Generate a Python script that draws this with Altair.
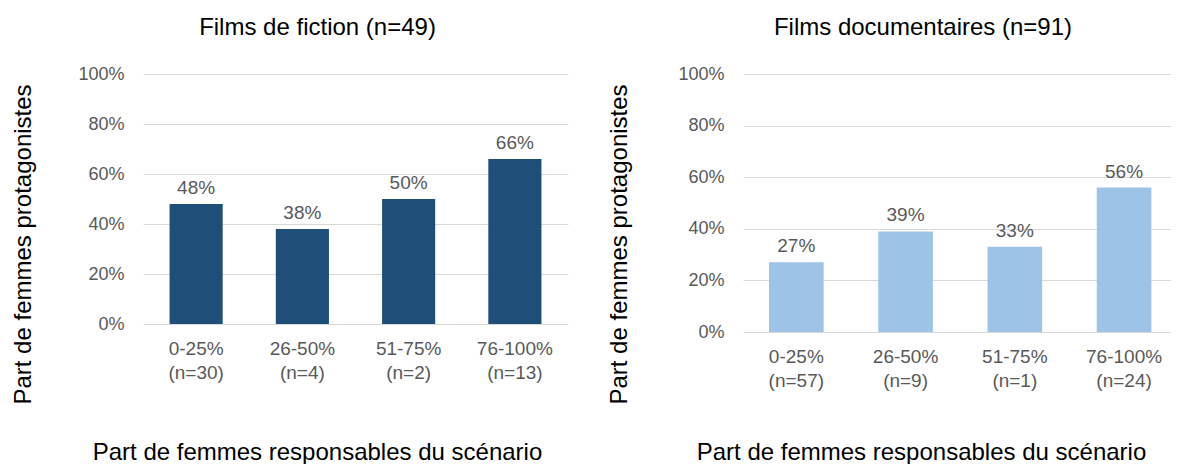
import altair as alt
import pandas as pd

categories = ["0-25%", "26-50%", "51-75%", "76-100%"]
fiction_n = [30, 4, 2, 13]
fiction_share = [0.48, 0.38, 0.50, 0.66]
doc_n = [57, 9, 1, 24]
doc_share = [0.27, 0.39, 0.33, 0.56]
y_ticks = [0, 0.2, 0.4, 0.6, 0.8, 1.0]

titles = ["Films de fiction (n=49)", "Films documentaires (n=91)"]
y_title = "Part de femmes protagonistes"
x_title = "Part de femmes responsables du scénario"

FONT = "Liberation Sans"
GRAY = "#595959"


def panel(title, share, ns, color, width, height, ytitle_x, ytitle_y,
          xtitle_x, xtitle_y, title_dx, pad_outer, align):
    labels = [f"{c}|(n={n})" for c, n in zip(categories, ns)]
    df = pd.DataFrame({"cat": labels, "share": share})
    x = alt.X(
        "cat:N", sort=labels,
        scale=alt.Scale(paddingInner=0.5, paddingOuter=pad_outer, align=align),
        axis=alt.Axis(
            title=x_title, labelAngle=0,
            labelExpr="split(datum.label, '|')",
            labelFontSize=19, labelColor=GRAY, labelFont=FONT,
            labelLineHeight=24, labelPadding=15, labelOverlap=False,
            ticks=False, domain=False,
            titleFontSize=24, titleFont=FONT, titleColor="black",
            titleFontWeight="normal", titleX=xtitle_x, titleY=xtitle_y,
            titleAlign="center", titleBaseline="alphabetic",
        ),
    )
    y = alt.Y(
        "share:Q", scale=alt.Scale(domain=[0, 1]),
        axis=alt.Axis(
            values=y_ticks, format=".0%", title=y_title,
            grid=True, gridColor="#d9d9d9", gridWidth=1,
            domain=False, ticks=False,
            labelFontSize=18, labelColor=GRAY, labelFont=FONT, labelPadding=19,
            titleFontSize=24, titleFont=FONT, titleColor="black",
            titleFontWeight="normal", titleAngle=270,
            titleX=ytitle_x, titleY=ytitle_y,
            titleAlign="center", titleBaseline="middle",
        ),
    )
    base = alt.Chart(df).encode(x=x, y=y)
    bars = base.mark_bar(color=color)
    text = base.mark_text(dy=-10, baseline="alphabetic", fontSize=19,
                          color=GRAY, font=FONT).encode(
        text=alt.Text("share:Q", format=".0%"))
    return alt.layer(bars, text).properties(
        width=width, height=height,
        title=alt.TitleParams(title, fontSize=24, font=FONT, color="black",
                              fontWeight="normal", anchor="middle",
                              baseline="alphabetic", offset=6, dx=title_dx),
    )


left = panel(titles[0], fiction_share, fiction_n, "#1F4E79", 425, 250,
             -120, 170, 174, 135, -38, 0.25, 0.5)
right = panel(titles[1], doc_share, doc_n, "#9DC3E6", 428, 258,
              -124, 170, 178, 127, -34, 0.2088, 0.57)

chart = alt.hconcat(left, right, spacing=175, bounds="flush").properties(
    padding={"left": 3, "top": 8, "right": 0, "bottom": 0}
).configure(font=FONT).configure_view(stroke="transparent", strokeWidth=0)

chart.save("out.html", embed_options={"renderer": "svg", "actions": False})
